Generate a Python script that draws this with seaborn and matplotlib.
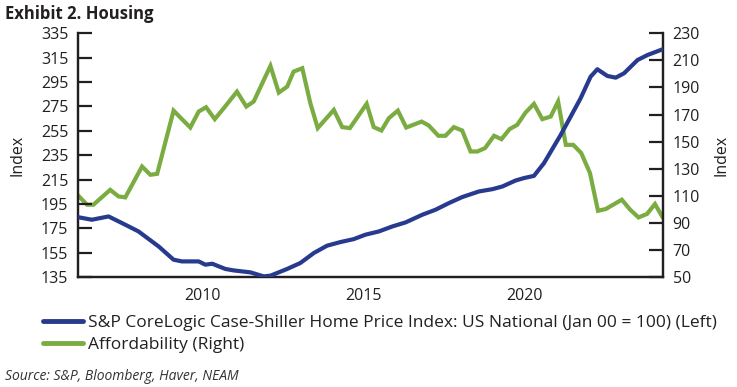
import matplotlib
matplotlib.use("Agg")
import matplotlib.pyplot as plt
import seaborn as sns
import pandas as pd
from matplotlib.lines import Line2D

# ---- data ----
hpi_years = [2006.10, 2006.55, 2007.07, 2007.59, 2008.00, 2008.63, 2009.09, 2009.35,
             2009.87, 2010.08, 2010.29, 2010.70, 2010.96, 2011.48, 2011.89, 2012.10,
             2012.62, 2013.03, 2013.45, 2013.86, 2014.28, 2014.69, 2015.05, 2015.47,
             2015.89, 2016.30, 2016.82, 2017.23, 2017.65, 2018.06, 2018.58, 2019.00,
             2019.31, 2019.72, 2019.98, 2020.29, 2020.60, 2021.12, 2021.43, 2021.74,
             2022.05, 2022.26, 2022.57, 2022.83, 2023.09, 2023.51, 2023.82, 2024.29]
hpi_values = [184.2, 182.0, 184.7, 177.9, 172.4, 160.0, 149.2, 147.8,
              147.8, 145.1, 145.9, 141.6, 140.4, 138.8, 135.5, 136.1,
              141.6, 146.5, 154.7, 160.7, 163.7, 166.1, 169.7, 172.4,
              176.5, 179.8, 186.1, 190.2, 195.7, 200.6, 205.2, 207.1,
              209.3, 214.2, 216.2, 218.0, 228.4, 251.6, 266.6, 281.7,
              299.4, 305.5, 300.0, 298.6, 302.2, 313.1, 317.2, 321.9]

aff_years = [2006.10, 2006.40, 2006.60, 2007.12, 2007.38, 2007.59, 2008.11, 2008.37,
             2008.58, 2009.09, 2009.35, 2009.61, 2009.87, 2010.10, 2010.37, 2010.65,
             2011.06, 2011.35, 2011.58, 2012.10, 2012.36, 2012.62, 2012.82, 2013.09,
             2013.34, 2013.57, 2014.07, 2014.33, 2014.57, 2015.09, 2015.31, 2015.55,
             2015.78, 2016.06, 2016.32, 2016.80, 2017.02, 2017.32, 2017.54, 2017.80,
             2018.06, 2018.32, 2018.53, 2018.77, 2019.05, 2019.28, 2019.53, 2019.77,
             2020.03, 2020.29, 2020.55, 2020.81, 2021.04, 2021.28, 2021.51, 2021.76,
             2022.03, 2022.28, 2022.52, 2023.02, 2023.28, 2023.54, 2023.80, 2024.05,
             2024.29]
aff_values = [110.8, 103.4, 103.4, 114.4, 109.5, 108.8, 131.6, 125.5,
              126.2, 172.9, 166.6, 160.4, 172.2, 175.4, 166.6, 174.7,
              186.9, 175.9, 179.6, 205.9, 186.2, 190.6, 201.7, 204.2,
              178.4, 160.0, 173.4, 160.7, 160.0, 177.9, 160.7, 158.2,
              167.3, 172.9, 160.4, 164.8, 161.9, 154.3, 154.3, 160.7,
              158.2, 142.7, 142.7, 145.2, 154.3, 151.8, 159.2, 162.4,
              171.5, 177.9, 166.6, 168.5, 179.6, 147.6, 147.6, 141.5,
              126.8, 98.9, 100.2, 107.1, 99.7, 94.0, 96.5, 103.9,
              94.0]

left_ticks = [135, 155, 175, 195, 215, 235, 255, 275, 295, 315, 335]
right_ticks = [50, 70, 90, 110, 130, 150, 170, 190, 210, 230]
x_ticks = [2010, 2015, 2020]

title = "Exhibit 2. Housing"
hpi_label = "S&P CoreLogic Case-Shiller Home Price Index: US National (Jan 00 = 100) (Left)"
aff_label = "Affordability (Right)"
source = "Source: S&P, Bloomberg, Haver, NEAM"

# ---- style ----
sns.set_style("white")
plt.rcParams['font.family'] = ['Open Sans', 'DejaVu Sans']
TXT = "#231f20"
BLUE = "#283a8e"
GREEN = "#7aac42"

W, H = 737, 387
fig = plt.figure(figsize=(W / 100, H / 100), dpi=100)
ax = fig.add_axes([78 / W, 1 - 277 / H, (663 - 78) / W, (277 - 33.3) / H])
ax2 = ax.twinx()

hpi = pd.DataFrame({"year": hpi_years, "value": hpi_values})
aff = pd.DataFrame({"year": aff_years, "value": aff_values})

sns.lineplot(data=hpi, x="year", y="value", ax=ax, color=BLUE, linewidth=3.0,
             solid_joinstyle="round", solid_capstyle="round", zorder=3)
sns.lineplot(data=aff, x="year", y="value", ax=ax2, color=GREEN, linewidth=3.0,
             solid_joinstyle="miter", zorder=2)

ax.set_zorder(ax2.get_zorder() + 1)
ax.patch.set_visible(False)

ax.set_xlim(2006.12, 2024.30)
ax.set_ylim(135, 335)
ax2.set_ylim(50, 230)
ax.set_xticks(x_ticks)
ax.set_yticks(left_ticks)
ax2.set_yticks(right_ticks)

for a in (ax, ax2):
    for s in a.spines.values():
        s.set_color(TXT)
        s.set_linewidth(1.6)
    a.spines['top'].set_visible(False)
    a.set_xlabel("")

ax.tick_params(axis='y', direction='in', length=10, width=1.6, color=TXT,
               labelsize=11.5, labelcolor=TXT, pad=7)
ax2.tick_params(axis='y', direction='in', length=10, width=1.6, color=TXT,
                labelsize=11.5, labelcolor=TXT, pad=7)
ax.tick_params(axis='x', length=0, labelsize=11.5, labelcolor=TXT, pad=8)

ax.set_ylabel("Index", fontsize=11.5, color=TXT, labelpad=11)
ax2.set_ylabel("Index", fontsize=11.5, color=TXT, rotation=90, labelpad=10)

fig.text(5 / W, 1 - 14 / H, title, fontsize=12, fontweight='bold', color=TXT,
         ha='left', va='center')

handles = [Line2D([0], [0], color=BLUE, lw=3.5), Line2D([0], [0], color=GREEN, lw=3.5)]
fig.legend(handles, [hpi_label, aff_label], loc='upper left',
           bbox_to_anchor=(43 / W, 1 - 315 / H), frameon=False, fontsize=12.5,
           handlelength=2.3, handletextpad=0.3, labelspacing=0.33, borderpad=0,
           borderaxespad=0, labelcolor=TXT)

fig.text(5 / W, 1 - 376 / H, source, fontsize=10, style='italic', color="#333333",
         ha='left', va='center')

fig.savefig("out.png", dpi=100)
